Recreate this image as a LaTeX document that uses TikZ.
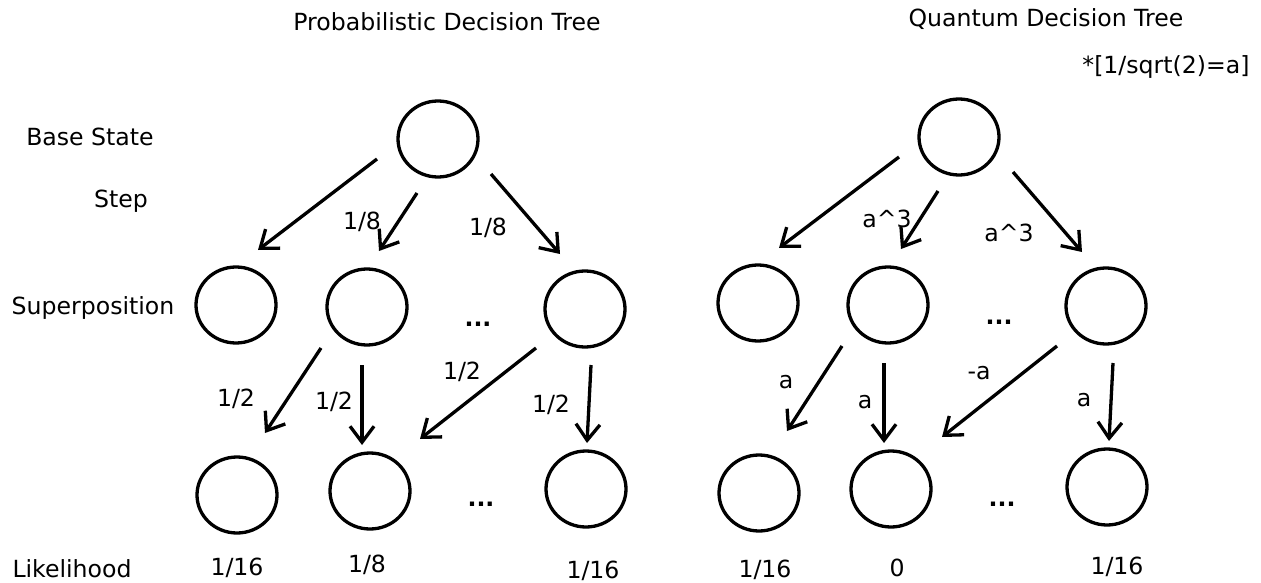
\documentclass[tikz,border=0pt]{standalone}
\usepackage{fontspec}
\setmainfont{DejaVu Sans}
\usetikzlibrary{arrows.meta,shapes.geometric}
\begin{document}
\begin{tikzpicture}[x=1pt,y=-1pt,
  st/.style={draw=black,line width=3.3pt,ellipse,minimum width=80pt,minimum height=76pt,inner sep=0pt},
  arr/.style={line width=3.3pt,-{Straight Barb[length=16pt,width=24pt,line width=3.3pt]}},
  txt/.style={font=\fontsize{23.6}{26}\selectfont,inner sep=0pt,anchor=center,yshift=-1.5pt},
  dots/.style={font=\fontsize{23.6}{26}\selectfont\bfseries,inner sep=0pt,anchor=base}]
\useasboundingbox (0,0) rectangle (1261,583);
% ---------- left tree ----------
\node[txt] (t1) at (447,20) {Probabilistic Decision Tree};
\node[txt] (lb) at (90,135) {Base State};
\node[txt] (ls) at (121,200) {Step};
\node[txt] (lsp) at (93,306) {Superposition};
\node[txt] (ll) at (72,567) {Likelihood};

\node[st] (r) at (438,139) {};
\node[st] (m1) at (236,305) {};
\node[st] (m2) at (367,307) {};
\node[st] (m3) at (585,309) {};
\node[dots] (d1) at (478,326) {...};
\node[st] (b1) at (237,495) {};
\node[st] (b2) at (370,491) {};
\node[st] (b3) at (586,489) {};
\node[dots] (d2) at (481,506) {...};

\coordinate (a1s) at (377,159); \coordinate (a1e) at (258,250);
\coordinate (a2s) at (417,193); \coordinate (a2e) at (379,251);
\coordinate (a3s) at (491,174); \coordinate (a3e) at (560,254);
\coordinate (a4s) at (321,348); \coordinate (a4e) at (265,433);
\coordinate (a5s) at (362,365); \coordinate (a5e) at (362,445);
\coordinate (a6s) at (536,348); \coordinate (a6e) at (420,439);
\coordinate (a7s) at (591,365); \coordinate (a7e) at (587,443);
\foreach \i in {1,...,7} {\draw[arr] (a\i s) -- (a\i e);}

\node[txt] (p1) at (362,220) {1/8};
\node[txt] (p2) at (488,226) {1/8};
\node[txt] (p3) at (236,397) {1/2};
\node[txt] (p4) at (334,400) {1/2};
\node[txt] (p5) at (462,370) {1/2};
\node[txt] (p6) at (551,403) {1/2};
\node[txt] (lk1) at (237,566) {1/16};
\node[txt] (lk2) at (367,563) {1/8};
\node[txt] (lk3) at (593,569) {1/16};

% ---------- right tree ----------
\node[txt] (t2) at (1046,18) {Quantum Decision Tree};
\node[txt] (note) at (1166,65) {*[1/sqrt(2)=a]};

\node[st] (R) at (959,137) {};
\node[st] (M1) at (758,303) {};
\node[st] (M2) at (888,305) {};
\node[st] (M3) at (1106,306) {};
\node[dots] (D1) at (999,324) {...};
\node[st] (B1) at (759,493) {};
\node[st] (B2) at (891,489) {};
\node[st] (B3) at (1107,487) {};
\node[dots] (D2) at (1002,506) {...};

\coordinate (b1s) at (899,157); \coordinate (b1e) at (779,248);
\coordinate (b2s) at (938,191); \coordinate (b2e) at (901,249);
\coordinate (b3s) at (1013,172); \coordinate (b3e) at (1082,252);
\coordinate (b4s) at (842,346); \coordinate (b4e) at (787,431);
\coordinate (b5s) at (884,363); \coordinate (b5e) at (884,443);
\coordinate (b6s) at (1057,346); \coordinate (b6e) at (942,437);
\coordinate (b7s) at (1113,363); \coordinate (b7e) at (1109,441);
\foreach \i in {1,...,7} {\draw[arr] (b\i s) -- (b\i e);}

\node[txt] (q1) at (887,217) {a\textasciicircum3};
\node[txt] (q2) at (1009,231) {a\textasciicircum3};
\node[txt] (q3) at (786,381) {a};
\node[txt] (q4) at (865,401) {a};
\node[txt] (q5) at (979,372) {-a};
\node[txt] (q6) at (1084,399) {a};
\node[txt] (LK1) at (765,568) {1/16};
\node[txt] (LK2) at (897,566) {0};
\node[txt] (LK3) at (1117,565) {1/16};
\end{tikzpicture}
\end{document}
